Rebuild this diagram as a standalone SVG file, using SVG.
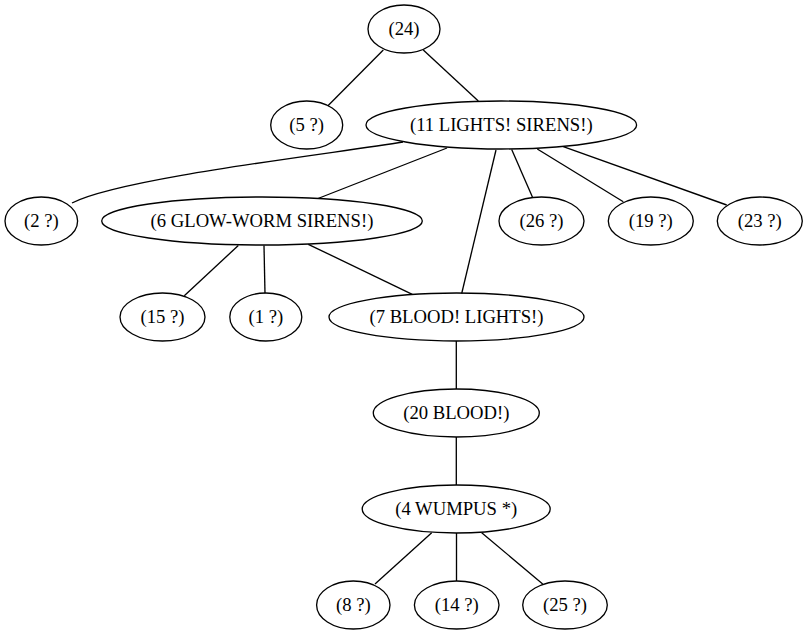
<svg xmlns="http://www.w3.org/2000/svg" width="808" height="635" viewBox="0 0 808 635">
<style>
ellipse{fill:none;stroke:#000;stroke-width:1.33}
.e path,.e line{fill:none;stroke:#000;stroke-width:1.33}
text{font-family:"Liberation Serif","Times New Roman",serif;font-size:18.67px;text-anchor:middle;fill:#000}
</style>
<rect width="808" height="635" fill="#fff"/>
<g class="e" id="edges">
<line x1="383.3" y1="50" x2="327.7" y2="106"/>
<line x1="423.3" y1="50" x2="478.3" y2="101"/>
<path d="M403,142 C330,154 120,178 72,203"/>
<line x1="447" y1="148" x2="318" y2="198.5"/>
<line x1="496" y1="150" x2="461.7" y2="293.5"/>
<line x1="511.7" y1="149.5" x2="532.7" y2="197.7"/>
<line x1="537.3" y1="149" x2="623.3" y2="201.7"/>
<line x1="563.3" y1="146.7" x2="726.7" y2="205"/>
<line x1="238.3" y1="245.5" x2="184.3" y2="295.7"/>
<line x1="264" y1="245.5" x2="265" y2="293.3"/>
<line x1="308.3" y1="244.3" x2="412.3" y2="294.3"/>
<line x1="456.3" y1="341" x2="456.3" y2="389"/>
<line x1="456.3" y1="437" x2="456.3" y2="485"/>
<line x1="431.7" y1="532.7" x2="375" y2="584"/>
<line x1="456.5" y1="533" x2="456.5" y2="581"/>
<line x1="481.7" y1="532.7" x2="542.7" y2="584"/>
</g>
<g id="n24"><ellipse cx="404" cy="29" rx="36" ry="24"/><text x="404" y="34.6">(24)</text></g>
<g id="n5"><ellipse cx="306.7" cy="125" rx="36" ry="24"/><text x="306.7" y="130.6">(5 ?)</text></g>
<g id="n11"><ellipse cx="501.3" cy="125" rx="135.3" ry="24"/><text x="501.3" y="130.6">(11 LIGHTS! SIRENS!)</text></g>
<g id="n2"><ellipse cx="41.3" cy="221" rx="36.3" ry="24"/><text x="41.3" y="226.6">(2 ?)</text></g>
<g id="n6"><ellipse cx="262" cy="221" rx="160.3" ry="24"/><text x="262" y="226.6">(6 GLOW-WORM SIRENS!)</text></g>
<g id="n26"><ellipse cx="541.5" cy="221" rx="42.5" ry="24"/><text x="541.5" y="226.6">(26 ?)</text></g>
<g id="n19"><ellipse cx="650.8" cy="221" rx="42.5" ry="24"/><text x="650.8" y="226.6">(19 ?)</text></g>
<g id="n23"><ellipse cx="759.8" cy="221" rx="42.5" ry="24"/><text x="759.8" y="226.6">(23 ?)</text></g>
<g id="n15"><ellipse cx="162.5" cy="317" rx="42.5" ry="24"/><text x="162.5" y="322.6">(15 ?)</text></g>
<g id="n1"><ellipse cx="265.8" cy="317" rx="36" ry="24"/><text x="265.8" y="322.6">(1 ?)</text></g>
<g id="n7"><ellipse cx="456.5" cy="317" rx="127.5" ry="24"/><text x="456.5" y="322.6">(7 BLOOD! LIGHTS!)</text></g>
<g id="n20"><ellipse cx="456.3" cy="413" rx="83" ry="24"/><text x="456.3" y="418.6">(20 BLOOD!)</text></g>
<g id="n4"><ellipse cx="456.2" cy="509" rx="94" ry="24"/><text x="456.2" y="514.6">(4 WUMPUS *)</text></g>
<g id="n8"><ellipse cx="353.3" cy="605" rx="36.7" ry="24"/><text x="353.3" y="610.6">(8 ?)</text></g>
<g id="n14"><ellipse cx="456.7" cy="605" rx="42.3" ry="24"/><text x="456.7" y="610.6">(14 ?)</text></g>
<g id="n25"><ellipse cx="565" cy="605" rx="42.3" ry="24"/><text x="565" y="610.6">(25 ?)</text></g>
</svg>
